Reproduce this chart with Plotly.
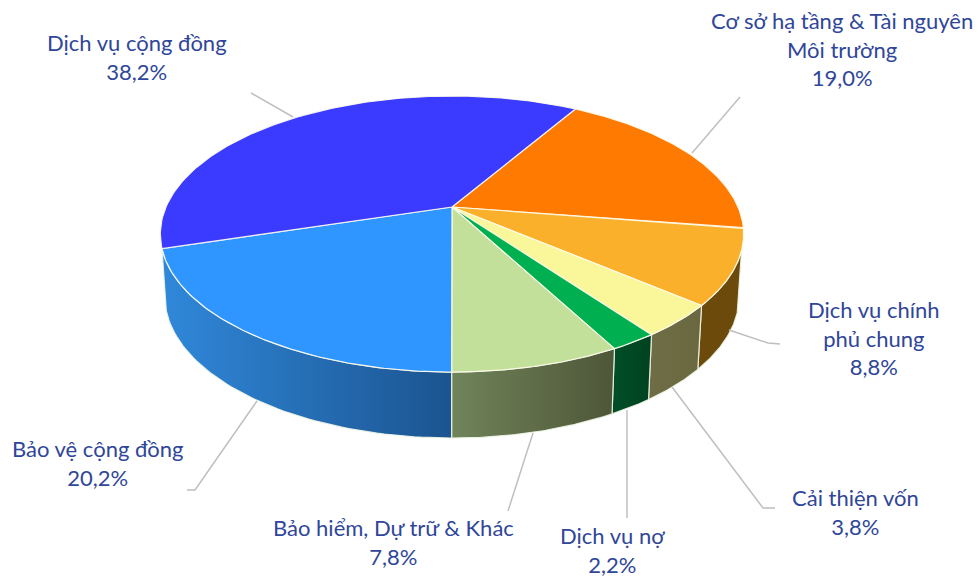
import numpy as np
import plotly.graph_objects as go

# Data
categories = ["Cơ sở hạ tầng & Tài nguyên<br>Môi trường", "Dịch vụ chính<br>phủ chung", "Cải thiện vốn",
              "Dịch vụ nợ", "Bảo hiểm, Dự trữ & Khác", "Bảo vệ cộng đồng", "Dịch vụ cộng đồng"]
shares = [19.0, 8.8, 3.8, 2.2, 7.8, 20.2, 38.2]
pct_labels = ["19,0%", "8,8%", "3,8%", "2,2%", "7,8%", "20,2%", "38,2%"]
top_colors = ["#FF7A00", "#FBB02B", "#FAF79A", "#00B050", "#C2E09A", "#2F96FF", "#3B3BFF"]
wall_left = [None, "#6B4A0C", "#6F6D45", "#004F28", "#70845A", "#3088DA", None]
wall_right = [None, "#6B4A0C", "#6A683F", "#00421F", "#4E5638", "#1B5490", None]

# Style / layout
label_pos = [(842, 49), (874, 338), (855, 512), (612, 550), (393, 542), (98, 463), (137, 57)]
leaders = [
    [(740, 97), (692, 153)],
    [(729, 330), (768, 343), (780, 344)],
    [(672, 387), (763, 508), (775, 508)],
    [(627, 410), (627, 518)],
    [(533, 433), (508, 511)],
    [(257, 401), (195, 490), (187, 490)],
    [(251, 93), (293, 117)],
]
TEXT = "#2F4699"
CX, CY, A, B, K = 452, 207, 286, 132.7, 0.196
ROT = 30.3
WALL_START = 108


def proj(deg):
    t = np.radians(deg)
    s, c = np.sin(t), np.cos(t)
    w = 1 + K * c
    return CX + A * s / w, CY - B * c / w, c / w


def lower(deg):
    x, y, cw = proj(deg)
    return CX + (x - CX) * 0.985, y + 61 - 4.0 * cw


fig = go.Figure()
edges = ROT + np.cumsum([0] + shares) * 3.6

for i in range(len(shares)):
    if wall_left[i] is None:
        continue
    a0, a1 = max(edges[i], WALL_START), edges[i + 1]
    th = np.linspace(a0, a1, 60)
    tx, ty, _ = proj(th)
    bx, by = lower(th)
    fig.add_trace(go.Scatter(
        x=np.r_[tx, bx[::-1], tx[0]], y=np.r_[ty, by[::-1], ty[0]],
        mode="lines", fill="toself",
        fillgradient=dict(type="horizontal", colorscale=[[0, wall_left[i]], [1, wall_right[i]]]),
        line=dict(color="rgba(240,245,230,0.9)", width=1.2),
        hoverinfo="skip", showlegend=False))

for i in range(len(shares)):
    th = np.linspace(edges[i], edges[i + 1], 120)
    tx, ty, _ = proj(th)
    fig.add_trace(go.Scatter(
        x=np.r_[CX, tx, CX], y=np.r_[CY, ty, CY],
        mode="lines", fill="toself", fillcolor=top_colors[i],
        line=dict(color="rgba(255,252,235,0.9)", width=1.2),
        name=categories[i].replace("<br>", " "), text=pct_labels[i],
        hoverinfo="name+text", showlegend=False))

for pts in leaders:
    fig.add_trace(go.Scatter(x=[p[0] for p in pts], y=[p[1] for p in pts], mode="lines",
                             line=dict(color="#BFBFBF", width=1.5),
                             hoverinfo="skip", showlegend=False))

for cat, pct, (lx, ly) in zip(categories, pct_labels, label_pos):
    fig.add_annotation(x=lx, y=ly, text=f"{cat}<br>{pct}", showarrow=False,
                       xanchor="center", yanchor="middle", align="center",
                       font=dict(family="Lato, Noto Sans, sans-serif", size=22, color=TEXT))

fig.update_layout(
    width=977, height=578, margin=dict(l=0, r=0, t=0, b=0),
    paper_bgcolor="white", plot_bgcolor="white",
    xaxis=dict(range=[0, 977], visible=False, fixedrange=True),
    yaxis=dict(range=[578, 0], visible=False, fixedrange=True),
)
fig.write_html("out.html", config={"displayModeBar": False},
               post_script="document.body.style.margin='0';document.documentElement.style.overflow='hidden';")
